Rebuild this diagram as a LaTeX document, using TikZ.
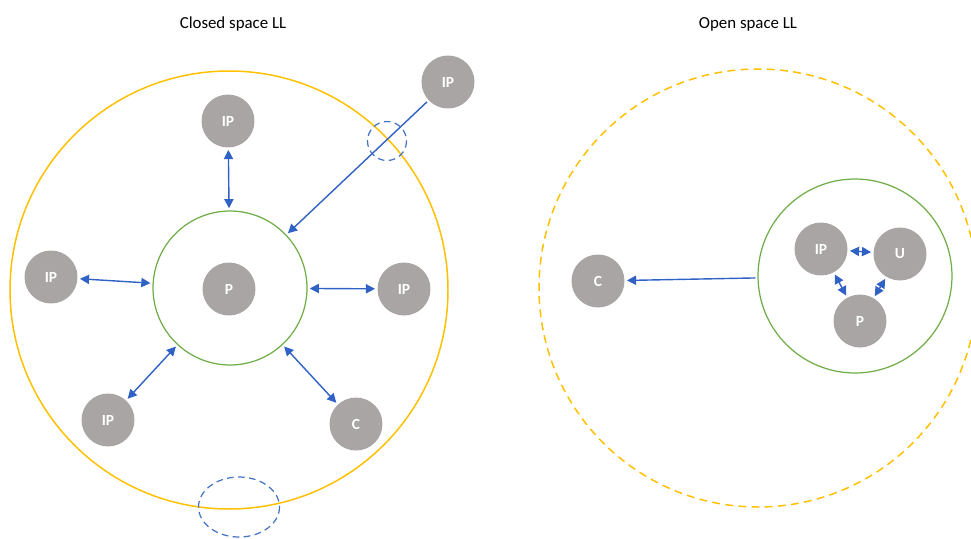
\documentclass[tikz,border=0pt]{standalone}
\usepackage{fontspec}
\setmainfont{Carlito}
\usetikzlibrary{arrows.meta}
\definecolor{nodegray}{HTML}{A9A5A4}
\definecolor{ringyellow}{HTML}{FFC000}
\definecolor{ringgreen}{HTML}{70AD47}
\definecolor{linkblue}{HTML}{2F62C4}
\definecolor{markblue}{HTML}{4472C4}
\tikzset{
  actor/.style={circle, fill=nodegray, minimum size=1.06cm, inner sep=0pt,
    text=white, font=\fontsize{8.8}{9}\selectfont\bfseries},
  zone/.style={circle, draw=ringgreen, line width=0.7pt, inner sep=0pt},
  outer/.style={draw=ringyellow, line width=0.85pt},
  title/.style={font=\fontsize{9.6}{11}\selectfont, text=black},
  link/.style={draw=linkblue, line width=0.8pt, shorten <=1.2pt, shorten >=1.2pt},
  both/.style={link, {Triangle[length=5.2pt,width=5.2pt]}-{Triangle[length=5.2pt,width=5.2pt]}},
  one/.style={link, -{Triangle[length=5.2pt,width=5.2pt]}},
  spotring/.style={draw=markblue, line width=0.7pt, dash pattern=on 3.8pt off 2.5pt},
}
\begin{document}
\begin{tikzpicture}[x=0.02cm, y=-0.02cm]
\useasboundingbox (0,0) rectangle (971,538);
\clip (0,0) rectangle (971,538);

% ---- closed space ----
\node[title] (t1) at (233,24) {Closed space LL};
\draw[outer] (229,290) circle (219);
\node[zone, minimum size=3.08cm] (g1) at (230,288) {};
\node[actor] (p1) at (229,289) {P};
\node[actor] (ipa) at (228,121) {IP};
\node[actor] (ipb) at (448,82) {IP};
\node[actor] (ipc) at (51,277) {IP};
\node[actor] (ipd) at (404,289) {IP};
\node[actor] (ipe) at (108,420) {IP};
\node[actor] (c1) at (356,424) {C};

\draw[both] (ipa) -- (g1);
\draw[one] (ipb) -- (g1);
\draw[both] (ipc) -- (g1);
\draw[both] (ipd) -- (g1);
\draw[both] (ipe) -- (g1);
\draw[both] (c1) -- (g1);

\draw[spotring] (387,141) circle (19.5);
\draw[spotring] (239,507) ellipse (40.5 and 30);

% ---- open space ----
\node[title] (t2) at (748,24) {Open space LL};
\draw[outer, dash pattern=on 4.5pt off 3pt] (758,288) circle (219);
\node[zone, minimum size=3.88cm] (g2) at (855,276) {};
\node[actor] (ipf) at (821,249) {IP};
\node[actor] (u2) at (900,254) {U};
\node[actor] (p2) at (860,321) {P};
\node[actor] (c2) at (598,281) {C};

\draw[one] (g2) -- (c2);
\draw[both] (ipf) -- (u2);
\draw[both] (ipf) -- (p2);
\draw[both] (u2) -- (p2);
\end{tikzpicture}
\end{document}
